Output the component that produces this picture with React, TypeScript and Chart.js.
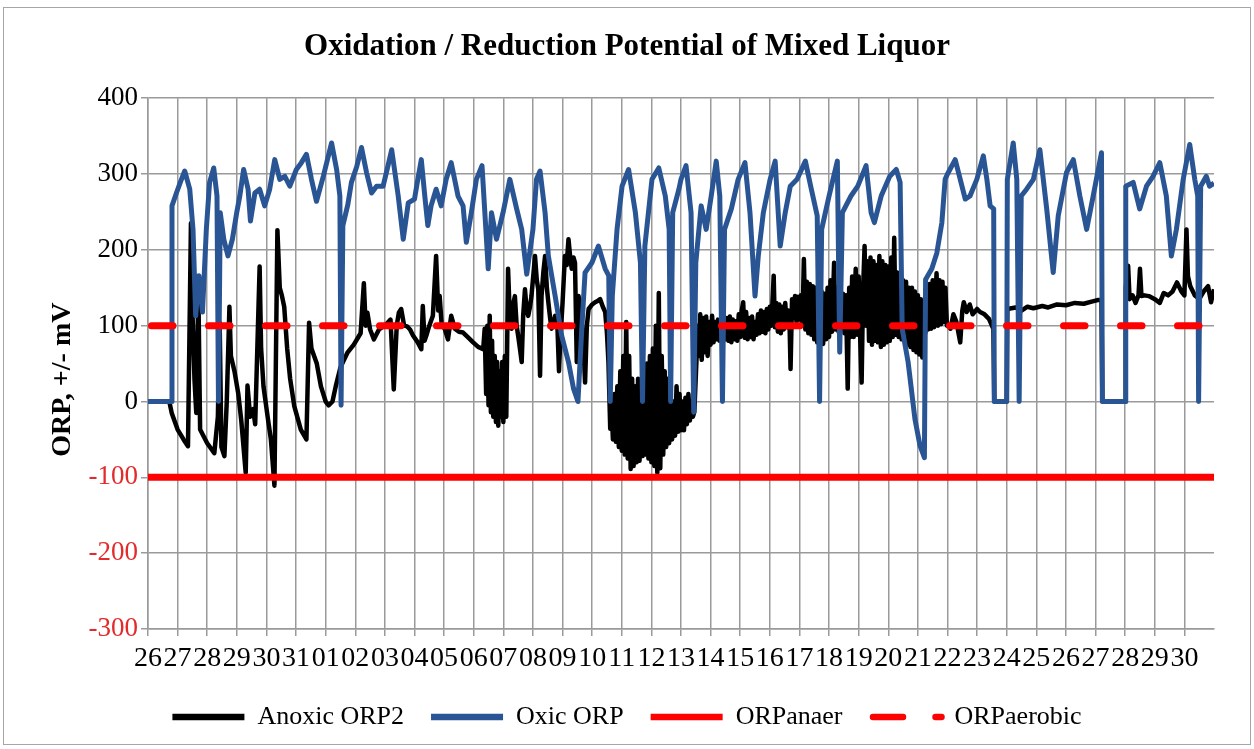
import { useEffect, useRef } from 'react';
import { Chart, registerables } from 'chart.js';

Chart.register(...registerables);

const chartTitle = 'Oxidation / Reduction Potential of Mixed Liquor';
const yAxisTitle = 'ORP, +/- mV';
const seriesNames = ['Anoxic ORP2', 'Oxic ORP', 'ORPanaer', 'ORPaerobic'];
const dayLabels = [
  '26', '27', '28', '29', '30', '31', '01', '02', '03', '04', '05', '06', '07', '08', '09', '10', '11', '12',
  '13', '14', '15', '16', '17', '18', '19', '20', '21', '22', '23', '24', '25', '26', '27', '28', '29', '30',
];
const xMin = 0;
const xMax = 36;
const yMin = -300;
const yMax = 400;
const yStep = 100;

// [day index, mV]
const anoxicORP2: number[][] = [
  [0, 0], [0.72, 0], [0.8, -15], [1.0, -37], [1.2, -50], [1.35, -59], [1.45, 235], [1.5, 120], [1.57, 29], [1.63, -15],
  [1.7, 150], [1.76, -37], [2.0, -55], [2.24, -68], [2.36, -20], [2.42, 104], [2.48, -60], [2.58, -72], [2.66, 0], [2.75, 125],
  [2.8, 60], [2.92, 40], [3.05, 10], [3.15, -25], [3.3, -94], [3.36, 21], [3.45, -20], [3.55, -10], [3.62, -30], [3.77, 178],
  [3.82, 70], [3.9, 20], [4.04, -20], [4.15, -50], [4.27, -111], [4.37, 226], [4.45, 150], [4.52, 140], [4.6, 125], [4.7, 70],
  [4.8, 30], [4.94, -6], [5.16, -37], [5.35, -50], [5.44, 104], [5.52, 70], [5.61, 60], [5.7, 50], [5.84, 20], [6.0, 0],
  [6.1, -5], [6.23, 0], [6.34, 20], [6.5, 45], [6.73, 64], [6.95, 75], [7.18, 90], [7.29, 156], [7.35, 100], [7.41, 117],
  [7.5, 95], [7.63, 82], [7.8, 95], [8.0, 100], [8.19, 108], [8.3, 16], [8.4, 100], [8.47, 117], [8.55, 122], [8.65, 100],
  [8.75, 99], [8.85, 95], [8.95, 87], [9.11, 78], [9.23, 69], [9.28, 126], [9.34, 80], [9.4, 87], [9.5, 100], [9.62, 113],
  [9.73, 192], [9.8, 120], [9.85, 139], [9.92, 100], [10.02, 96], [10.13, 82], [10.24, 113], [10.36, 96], [10.5, 92], [10.64, 91],
  [10.8, 85], [10.98, 78], [11.15, 72], [11.32, 69], [11.37, 96], [11.42, 10], [11.46, 100], [11.5, -5], [11.54, 113], [11.58, -14],
  [11.62, 80], [11.66, -20], [11.71, 60], [11.75, -27], [11.79, 52], [11.83, -32], [11.88, 40], [11.92, -20], [11.96, 52], [12.0, -27],
  [12.05, 60], [12.1, -20], [12.16, 175], [12.22, 110], [12.28, 96], [12.34, 130], [12.39, 139], [12.45, 100], [12.5, 87], [12.56, 70],
  [12.62, 52], [12.67, 113], [12.73, 148], [12.79, 120], [12.84, 113], [12.9, 125], [12.95, 139], [13.02, 170], [13.07, 192], [13.13, 160],
  [13.18, 148], [13.24, 34], [13.29, 139], [13.35, 170], [13.41, 192], [13.47, 150], [13.52, 131], [13.58, 110], [13.63, 96], [13.7, 105],
  [13.75, 113], [13.83, 95], [13.88, 40], [13.92, 78], [14.0, 130], [14.08, 192], [14.14, 180], [14.2, 214], [14.26, 190], [14.31, 175],
  [14.37, 190], [14.42, 183], [14.48, 52], [14.54, 139], [14.6, 120], [14.65, 104], [14.7, 80], [14.76, 25], [14.82, 100], [14.88, 122],
  [15.0, 128], [15.1, 131], [15.2, 133], [15.27, 135], [15.36, 125], [15.44, 118], [15.5, 90], [15.55, 52], [15.61, -36], [15.65, 0],
  [15.7, -50], [15.75, 10], [15.8, -53], [15.85, 20], [15.9, -60], [15.95, 40], [16.0, -65], [16.05, 60], [16.1, -70], [16.15, 105],
  [16.2, -75], [16.25, 60], [16.3, -89], [16.35, 30], [16.4, -85], [16.45, 20], [16.5, -80], [16.55, 30], [16.6, -78], [16.65, 25],
  [16.7, -72], [16.75, 40], [16.8, -70], [16.85, 50], [16.9, -75], [16.95, 60], [17.0, -80], [17.05, 70], [17.1, -85], [17.15, 100],
  [17.2, -94], [17.25, 143], [17.3, -88], [17.35, 60], [17.4, -70], [17.45, 40], [17.5, -60], [17.55, 30], [17.6, -55], [17.65, 10],
  [17.7, -50], [17.75, 0], [17.8, -45], [17.85, 20], [17.9, -40], [17.95, 10], [18.0, -38], [18.05, 0], [18.1, -38], [18.15, 5],
  [18.2, -30], [18.25, 10], [18.3, -25], [18.35, 0], [18.4, -20], [18.45, -14], [18.52, 52], [18.55, 100], [18.6, 60], [18.65, 115],
  [18.7, 55], [18.75, 110], [18.8, 65], [18.85, 112], [18.9, 60], [18.95, 105], [19.0, 75], [19.05, 113], [19.1, 78], [19.15, 105],
  [19.2, 82], [19.25, 108], [19.3, 80], [19.35, 100], [19.45, 104], [19.5, 82], [19.55, 110], [19.6, 80], [19.65, 112],
  [19.7, 78], [19.75, 108], [19.8, 82], [19.85, 106], [19.9, 80], [19.95, 115], [20.0, 85], [20.05, 120], [20.1, 131], [20.15, 84],
  [20.2, 118], [20.25, 82], [20.3, 110], [20.35, 85], [20.4, 112], [20.45, 82], [20.5, 105], [20.55, 88], [20.6, 115], [20.65, 90],
  [20.7, 120], [20.75, 92], [20.8, 118], [20.85, 90], [20.9, 122], [20.95, 95], [21.0, 125], [21.05, 100], [21.1, 140], [21.13, 166],
  [21.17, 98], [21.22, 130], [21.27, 92], [21.32, 128], [21.37, 90], [21.42, 125], [21.47, 95], [21.52, 130], [21.57, 98], [21.62, 120],
  [21.67, 95], [21.7, 43], [21.75, 135], [21.8, 110], [21.85, 139], [21.9, 105], [21.95, 138], [22.0, 108], [22.05, 140], [22.1, 100],
  [22.15, 188], [22.2, 95], [22.25, 158], [22.3, 90], [22.35, 155], [22.4, 88], [22.45, 152], [22.5, 82], [22.55, 150], [22.6, 78],
  [22.65, 148], [22.7, 80], [22.75, 145], [22.8, 76], [22.85, 142], [22.9, 82], [22.95, 150], [23.0, 85], [23.05, 160], [23.1, 92],
  [23.17, 183], [23.22, 95], [23.27, 150], [23.32, 92], [23.37, 145], [23.42, 95], [23.47, 142], [23.52, 90], [23.57, 140], [23.63, 17],
  [23.68, 150], [23.73, 85], [23.78, 165], [23.83, 85], [23.9, 175], [23.95, 88], [24.0, 165], [24.05, 85], [24.1, 25], [24.15, 150],
  [24.2, 205], [24.25, 100], [24.3, 185], [24.35, 80], [24.4, 190], [24.45, 75], [24.5, 185], [24.55, 80], [24.6, 180], [24.65, 78],
  [24.7, 192], [24.75, 72], [24.8, 185], [24.85, 75], [24.9, 180], [24.95, 78], [25.0, 178], [25.05, 80], [25.1, 190], [25.15, 85],
  [25.2, 216], [25.25, 88], [25.3, 170], [25.35, 85], [25.4, 165], [25.45, 82], [25.5, 160], [25.55, 80], [25.6, 158], [25.65, 75],
  [25.7, 150], [25.75, 72], [25.8, 150], [25.85, 68], [25.9, 145], [25.95, 65], [26.0, 140], [26.05, 62], [26.1, 135], [26.15, 58],
  [26.2, 130], [26.25, 90], [26.3, 150], [26.35, 95], [26.4, 155], [26.45, 96], [26.5, 160], [26.55, 98], [26.63, 169], [26.68, 100],
  [26.73, 160], [26.78, 102], [26.83, 158], [26.88, 105], [26.93, 150], [26.98, 100], [27.05, 100], [27.1, 96], [27.2, 115], [27.3, 105],
  [27.43, 78], [27.5, 120], [27.55, 131], [27.65, 118], [27.75, 128], [27.85, 115], [28.0, 122], [28.1, 118], [28.25, 115], [28.4, 109],
  [28.5, 100], [28.55, 96], [28.58, 0], [29.0, 0], [29.02, 122], [29.3, 124], [29.5, 120], [29.7, 125], [29.9, 123], [30.2, 126],
  [30.4, 124], [30.7, 128], [31.0, 127], [31.3, 130], [31.6, 129], [31.9, 132], [32.1, 134], [32.2, 133], [32.23, 0], [33.0, 0],
  [33.02, 150], [33.1, 179], [33.15, 135], [33.25, 140], [33.35, 130], [33.45, 140], [33.5, 175], [33.55, 139], [33.65, 140], [33.8, 139],
  [34.0, 135], [34.17, 130], [34.3, 143], [34.45, 140], [34.6, 145], [34.75, 157], [34.9, 145], [35.0, 140], [35.07, 227], [35.12, 165],
  [35.2, 152], [35.35, 140], [35.5, 135], [35.65, 145], [35.8, 152], [35.9, 131], [36.0, 148],
];

const oxicORP: number[][] = [
  [0, 0], [0.79, 0], [0.81, 258], [0.96, 275], [1.1, 290], [1.24, 304], [1.41, 280], [1.52, 227], [1.61, 113], [1.72, 166],
  [1.84, 118], [1.97, 227], [2.08, 289], [2.22, 308], [2.33, 271], [2.38, 0], [2.44, 249], [2.56, 214], [2.7, 192], [2.85, 214],
  [3.0, 250], [3.1, 271], [3.23, 306], [3.38, 280], [3.46, 238], [3.61, 275], [3.77, 280], [3.94, 258], [4.11, 280], [4.28, 319],
  [4.45, 293], [4.62, 297], [4.79, 284], [5.01, 306], [5.18, 315], [5.35, 326], [5.52, 293], [5.69, 264], [5.92, 297], [6.2, 341],
  [6.37, 306], [6.48, 271], [6.52, -5], [6.58, 232], [6.75, 260], [6.87, 289], [7.05, 310], [7.21, 335], [7.38, 302], [7.55, 275],
  [7.72, 284], [7.94, 284], [8.1, 310], [8.23, 332], [8.45, 271], [8.62, 214], [8.79, 262], [9.0, 267], [9.12, 295], [9.23, 319],
  [9.35, 270], [9.45, 232], [9.56, 258], [9.73, 280], [9.9, 258], [10.07, 293], [10.24, 315], [10.47, 271], [10.64, 258], [10.75, 210],
  [10.92, 249], [11.09, 293], [11.28, 311], [11.49, 175], [11.6, 249], [11.77, 214], [11.99, 249], [12.22, 293], [12.45, 254], [12.62, 227],
  [12.79, 168], [13.0, 227], [13.12, 293], [13.24, 304], [13.41, 249], [13.52, 192], [13.75, 139], [13.97, 87], [14.2, 52], [14.37, 17],
  [14.52, 0], [14.65, 96], [14.76, 170], [14.99, 183], [15.21, 205], [15.44, 175], [15.56, 166], [15.61, 0], [15.68, 139], [15.84, 227],
  [16.01, 284], [16.23, 306], [16.46, 249], [16.63, 183], [16.7, 0], [16.78, 205], [17.02, 293], [17.25, 308], [17.47, 271], [17.6, 227],
  [17.65, 0], [17.72, 249], [17.93, 280], [18.0, 293], [18.17, 311], [18.34, 249], [18.43, -14], [18.5, 183], [18.68, 258], [18.85, 227],
  [19.02, 271], [19.19, 317], [19.31, 271], [19.4, 0], [19.47, 227], [19.7, 254], [19.93, 293], [20.16, 315], [20.33, 249], [20.5, 139],
  [20.61, 192], [20.78, 249], [21.01, 293], [21.18, 317], [21.35, 205], [21.52, 249], [21.69, 284], [21.92, 293], [22.2, 317], [22.38, 284],
  [22.6, 245], [22.68, 0], [22.75, 227], [23.0, 271], [23.28, 317], [23.36, 65], [23.45, 249], [23.74, 271], [23.97, 284], [24.25, 311],
  [24.42, 249], [24.53, 236], [24.76, 271], [25.05, 297], [25.27, 306], [25.4, 289], [25.47, 96], [25.67, 52], [25.9, -23], [26.07, -58],
  [26.22, -74], [26.26, 161], [26.47, 175], [26.64, 196], [26.81, 236], [26.92, 293], [27.0, 300], [27.26, 319], [27.43, 293], [27.6, 267],
  [27.76, 271], [27.99, 293], [28.21, 324], [28.33, 293], [28.44, 258], [28.56, 254], [28.58, 0], [29.0, 0], [29.02, 293], [29.22, 341],
  [29.34, 293], [29.42, 0], [29.49, 271], [29.67, 280], [29.9, 293], [30.12, 332], [30.35, 254], [30.57, 170], [30.74, 245], [31.02, 302],
  [31.25, 319], [31.47, 271], [31.7, 227], [31.92, 271], [32.2, 328], [32.23, 0], [33.0, 0], [33.02, 284], [33.27, 289], [33.49, 254],
  [33.72, 284], [33.94, 297], [34.17, 315], [34.39, 271], [34.56, 192], [34.73, 227], [34.96, 293], [35.18, 339], [35.35, 293], [35.45, 271],
  [35.48, 0], [35.55, 284], [35.74, 297], [35.85, 284], [36.0, 288],
];

const orpAnaer: number[][] = [[0, -100], [36, -100]];
const orpAerobic: number[][] = [[0, 100], [36, 100]];

const seriesColors = ['#000000', '#2a5594', '#ff0000', '#ff0000'];

const serif = '"Liberation Serif", "Times New Roman", serif';

// draws the rotated y-axis caption a little below the axis middle, as in the original
const yCaptionPlugin = {
  id: 'yCaption',
  afterDraw(chart: any) {
    const { ctx, chartArea } = chart;
    ctx.save();
    ctx.translate(59, (chartArea.top + chartArea.bottom) / 2 + 16);
    ctx.rotate(-Math.PI / 2);
    ctx.font = `bold 28px ${serif}`;
    ctx.fillStyle = '#000000';
    ctx.textAlign = 'center';
    ctx.textBaseline = 'middle';
    ctx.fillText(yAxisTitle, 0, 0);
    ctx.restore();
  },
};

export default function App() {
  const canvasRef = useRef<HTMLCanvasElement | null>(null);

  useEffect(() => {
    const canvas = canvasRef.current;
    if (!canvas) return;
    const toPoints = (pairs: number[][]) => pairs.map(([x, y]) => ({ x, y }));
    const gridColor = '#9a9a9a';

    const chart = new Chart(canvas, {
      type: 'line',
      data: {
        datasets: [
          {
            label: seriesNames[0], data: toPoints(anoxicORP2), borderColor: seriesColors[0], backgroundColor: seriesColors[0],
            borderWidth: 4.5, pointRadius: 0, pointStyle: 'line', tension: 0, order: 4, borderJoinStyle: 'round',
          },
          {
            label: seriesNames[1], data: toPoints(oxicORP), borderColor: seriesColors[1], backgroundColor: seriesColors[1],
            borderWidth: 5, pointRadius: 0, pointStyle: 'line', tension: 0, order: 3, borderJoinStyle: 'round',
          },
          {
            label: seriesNames[2], data: toPoints(orpAnaer), borderColor: seriesColors[2], backgroundColor: seriesColors[2],
            borderWidth: 7, pointRadius: 0, pointStyle: 'line', tension: 0, order: 2,
          },
          {
            label: seriesNames[3], data: toPoints(orpAerobic), borderColor: seriesColors[3], backgroundColor: seriesColors[3],
            borderWidth: 7, pointRadius: 0, pointStyle: 'line', tension: 0, order: 1,
            borderDash: [21.5, 35.5], borderDashOffset: -3.5, borderCapStyle: 'round',
          },
        ],
      },
      options: {
        animation: false,
        responsive: true,
        maintainAspectRatio: false,
        layout: { padding: { left: 0, right: 0, top: 0, bottom: 4 } },
        scales: {
          x: {
            type: 'linear',
            min: xMin,
            max: xMax,
            bounds: 'data',
            afterBuildTicks: (axis: any) => {
              axis.ticks = dayLabels.map((_, i) => ({ value: i }));
            },
            afterFit: (axis: any) => {
              axis.height = 48;
            },
            ticks: {
              autoSkip: false,
              maxRotation: 0,
              minRotation: 0,
              padding: 6,
              color: '#000000',
              font: { family: serif, size: 28 },
              callback: (_v: any, i: number) => dayLabels[i],
            },
            grid: { color: gridColor, lineWidth: 1.5, tickLength: 7, drawOnChartArea: true },
            border: { display: true, color: gridColor, width: 1.5 },
          },
          y: {
            type: 'linear',
            min: yMin,
            max: yMax,
            afterFit: (axis: any) => {
              axis.width = 144;
            },
            ticks: {
              stepSize: yStep,
              padding: 3,
              color: (ctx: any) => (ctx.tick && ctx.tick.value < 0 ? '#e32b2b' : '#000000'),
              font: { family: serif, size: 27 },
            },
            grid: { color: gridColor, lineWidth: 1.5, tickLength: 7 },
            border: { display: true, color: gridColor, width: 1.5 },
          },
          // empty right-hand strip, keeps the plot clear of the right edge without off-centring title/legend
          yRight: {
            type: 'linear',
            position: 'right',
            display: true,
            afterFit: (axis: any) => {
              axis.width = 36;
            },
            ticks: { display: false },
            grid: { display: false, drawTicks: false },
            border: { display: false },
          },
        },
        plugins: {
          title: {
            display: true,
            text: chartTitle,
            color: '#000000',
            font: { family: serif, size: 31, weight: 'bold' },
            padding: { top: 20, bottom: 33 },
          },
          legend: {
            display: true,
            position: 'bottom',
            labels: {
              usePointStyle: true,
              pointStyleWidth: 72,
              padding: 27,
              color: '#000000',
              font: { family: serif, size: 26 },
              sort: (a: any, b: any) => a.datasetIndex - b.datasetIndex,
              generateLabels: (c: any) =>
                (Chart.defaults.plugins.legend.labels.generateLabels as any)(c).map((it: any) => {
                  const ds = c.data.datasets[it.datasetIndex];
                  return {
                    ...it,
                    lineWidth: 6.5,
                    pointStyle: 'line',
                    strokeStyle: ds.borderColor,
                    lineDash: ds.borderDash ? [30, 32.5] : [],
                    lineDashOffset: ds.borderDash ? -3.5 : 0,
                    lineCap: ds.borderCapStyle || 'butt',
                  };
                }),
            },
          },
          tooltip: { enabled: false },
        },
      } as any,
      plugins: [yCaptionPlugin],
    });

    return () => chart.destroy();
  }, []);

  return (
    <div
      style={{
        position: 'absolute',
        left: 3,
        top: 7,
        width: 1246,
        height: 736,
        border: '1px solid #a6a6a6',
        background: '#ffffff',
      }}
    >
      <canvas ref={canvasRef} />
    </div>
  );
}
